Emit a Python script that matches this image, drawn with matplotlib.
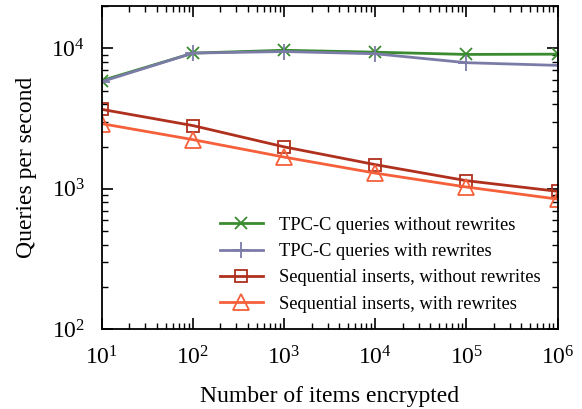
import numpy as np
import matplotlib.pyplot as plt

plt.rcParams['font.family'] = ['Liberation Serif', 'DejaVu Serif']
plt.rcParams['mathtext.fontset'] = 'stix'

# Number of items encrypted
items = [1e1, 1e2, 1e3, 1e4, 1e5, 1e6]

# Queries per second for each series
tpcc_no_rewrite = [5900, 9260, 9700, 9400, 9060, 9100]
tpcc_rewrite = [5800, 9260, 9500, 9160, 7910, 7570]
seq_no_rewrite = [3680, 2820, 1990, 1487, 1143, 960]
seq_rewrite = [2910, 2240, 1683, 1294, 1030, 845]

fig, ax = plt.subplots(figsize=(5.82, 4.09), dpi=100)
fig.subplots_adjust(left=0.175, right=0.958, top=0.985, bottom=0.195)

ax.plot(items, tpcc_no_rewrite, color='#3a8a30', marker='x', markersize=9,
        markeredgewidth=1.3, linewidth=2, label='TPC-C queries without rewrites')
ax.plot(items, tpcc_rewrite, color='#7b7ba8', marker='+', markersize=12,
        markeredgewidth=1.3, linewidth=2, label='TPC-C queries with rewrites')
ax.plot(items, seq_no_rewrite, color='#b0301e', marker='s', markersize=9,
        markerfacecolor='none', markeredgewidth=1.3, linewidth=2,
        label='Sequential inserts, without rewrites')
ax.plot(items, seq_rewrite, color='#f5603a', marker='^', markersize=11,
        markerfacecolor='none', markeredgewidth=1.3, linewidth=2,
        label='Sequential inserts, with rewrites')

ax.set_xscale('log')
ax.set_yscale('log')
ax.set_xlim(1e1, 1e6)
ax.set_ylim(1e2, 2e4)

ax.tick_params(which='both', direction='in', top=True, right=True, labelsize=17, pad=12)
ax.tick_params(which='major', length=8, width=1.2)
ax.tick_params(which='minor', length=4.5, width=1.0)
for s in ax.spines.values():
    s.set_linewidth(1.3)

ax.set_xlabel('Number of items encrypted', fontsize=17, labelpad=12)
ax.set_ylabel('Queries per second', fontsize=17, labelpad=10)

ax.legend(loc='lower right', bbox_to_anchor=(1.0, 0.0), frameon=False,
          fontsize=13.3, handlelength=2.3, handletextpad=0.9, labelspacing=0.5)

plt.savefig('out.png', dpi=100)
